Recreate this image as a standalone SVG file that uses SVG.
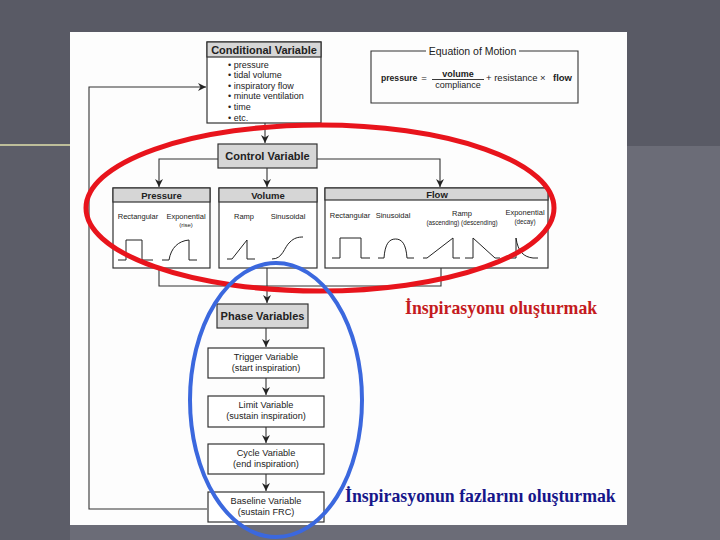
<svg xmlns="http://www.w3.org/2000/svg" width="720" height="540" viewBox="0 0 720 540">
<defs>
<style>
.box{fill:#fff;stroke:#333;stroke-width:1.2}
.hdr{fill:#d6d6d6;stroke:#333;stroke-width:1.2}
.t{font-family:"Liberation Sans",Arial,sans-serif;fill:#222}
.b{font-weight:bold;font-size:11px}
.s{font-size:9.2px}
.xs{font-size:7.5px}
.ln{fill:none;stroke:#333;stroke-width:1.1}
.wf{fill:none;stroke:#222;stroke-width:1}
</style>
<marker id="ar" markerWidth="10" markerHeight="10" refX="8" refY="5" orient="auto" markerUnits="userSpaceOnUse">
<path d="M0,1 L8,5 L0,9 L2.5,5 Z" fill="#222"/>
</marker>
</defs>
<rect width="720" height="540" fill="#6b6c77"/>
<rect width="720" height="146" fill="#595a65"/>
<rect x="0" y="146" width="70" height="394" fill="#5c5d68"/>
<line x1="0" y1="145" x2="72" y2="145" stroke="#d8d8a8" stroke-width="2" opacity="0.8"/>
<line x1="71" y1="110" x2="71" y2="165" stroke="#d8d8b0" stroke-width="1.5" opacity="0.6"/>
<rect x="70" y="32" width="557" height="493" fill="#fdfdfd"/>

<g id="connectors">
<polyline class="ln" points="207,509 89,509 89,87 206,87" marker-end="url(#ar)"/>
<line class="ln" x1="265" y1="123" x2="265" y2="143" marker-end="url(#ar)"/>
<polyline class="ln" points="218,159 159,159 159,187" marker-end="url(#ar)"/>
<line class="ln" x1="267" y1="168" x2="267" y2="187" marker-end="url(#ar)"/>
<polyline class="ln" points="317,159 440,159 440,187" marker-end="url(#ar)"/>
<polyline class="ln" points="159,268 159,286 441,286 441,268"/>
<line class="ln" x1="267" y1="268" x2="267" y2="303" marker-end="url(#ar)"/>
<line class="ln" x1="266" y1="328" x2="266" y2="347" marker-end="url(#ar)"/>
<line class="ln" x1="266" y1="378" x2="266" y2="395" marker-end="url(#ar)"/>
<line class="ln" x1="266" y1="427" x2="266" y2="443" marker-end="url(#ar)"/>
<line class="ln" x1="266" y1="474" x2="266" y2="491" marker-end="url(#ar)"/>
</g>

<g id="conditional">
<rect class="box" x="207" y="42" width="114" height="81"/>
<rect class="hdr" x="207" y="42" width="114" height="15"/>
<text class="t b" x="264" y="53.8" text-anchor="middle">Conditional Variable</text>
<g class="t" font-size="9">
<text x="228" y="67.5">• pressure</text>
<text x="228" y="78">• tidal volume</text>
<text x="228" y="88.5">• inspiratory flow</text>
<text x="228" y="99">• minute ventilation</text>
<text x="228" y="110">• time</text>
<text x="228" y="120.5">• etc.</text>
</g>
</g>

<g id="equation">
<polyline class="ln" points="426,51 371,51 371,103 578,103 578,51 519,51" stroke-width="1.6"/>
<text class="t" x="472.5" y="55" text-anchor="middle" font-size="10.5">Equation of Motion</text>
<text class="t" x="381" y="81" font-size="8.6" font-weight="bold">pressure</text>
<text class="t" x="424" y="81" font-size="9.5" text-anchor="middle">=</text>
<text class="t" x="458" y="77" font-size="9" text-anchor="middle" font-weight="bold">volume</text>
<line x1="432" y1="79.5" x2="484" y2="79.5" stroke="#222" stroke-width="0.9"/>
<text class="t" x="458" y="88" font-size="9" text-anchor="middle">compliance</text>
<text class="t" x="486" y="81" font-size="9.5">+ resistance ×</text>
<text class="t" x="553" y="81" font-size="9.5" font-weight="bold">flow</text>
</g>

<g id="control">
<rect class="hdr" x="218" y="144" width="99" height="24"/>
<text class="t b" x="267.5" y="160" text-anchor="middle">Control Variable</text>
</g>

<g id="pressure">
<rect class="box" x="113" y="188" width="97" height="80"/>
<rect class="hdr" x="113" y="188" width="97" height="14"/>
<text class="t" x="161.5" y="198.5" text-anchor="middle" font-size="9.5" font-weight="bold">Pressure</text>
<text class="t xs" x="138" y="219" text-anchor="middle">Rectangular</text>
<text class="t xs" x="186" y="219" text-anchor="middle">Exponential</text>
<text class="t" x="186" y="227" text-anchor="middle" font-size="6">(rise)</text>
<polyline class="wf" points="118,260 126,260 126,240 142,240 142,260 153,260"/>
<path class="wf" d="M162,260 L169,260 C171,248 178,241 189,240 L189,260 L197,260"/>
</g>

<g id="volume">
<rect class="box" x="219" y="188" width="98" height="80"/>
<rect class="hdr" x="219" y="188" width="98" height="14"/>
<text class="t" x="268" y="198.5" text-anchor="middle" font-size="9.5" font-weight="bold">Volume</text>
<text class="t xs" x="244" y="219" text-anchor="middle">Ramp</text>
<text class="t xs" x="288" y="219" text-anchor="middle">Sinusoidal</text>
<polyline class="wf" points="227,259 232,259 247,240 247,259 255,259"/>
<path class="wf" d="M272,259 C283,259 284,247 290,242 C294,238 298,237 303,237"/>
</g>

<g id="flow">
<rect class="box" x="325" y="188" width="223" height="80"/>
<rect class="hdr" x="325" y="188" width="223" height="12"/>
<text class="t" x="437" y="197.5" text-anchor="middle" font-size="9.5" font-weight="bold">Flow</text>
<text class="t xs" x="350" y="218" text-anchor="middle">Rectangular</text>
<text class="t xs" x="393" y="218" text-anchor="middle">Sinusoidal</text>
<text class="t xs" x="462" y="216" text-anchor="middle">Ramp</text>
<text class="t" x="462" y="225" text-anchor="middle" font-size="6.3">(ascending) (descending)</text>
<text class="t xs" x="525" y="215" text-anchor="middle">Exponential</text>
<text class="t" x="525" y="224" text-anchor="middle" font-size="6.3">(decay)</text>
<polyline class="wf" points="332,258 340,258 340,238 361,238 361,258 370,258"/>
<path class="wf" d="M378,258 L384,258 C385,244 389,239 395.5,239 C402,239 406,244 407,258 L414,258"/>
<polyline class="wf" points="423,258 427,258 453,238 453,258 460,258"/>
<polyline class="wf" points="465,258 473,258 473,238 495,258 500,258"/>
<path class="wf" d="M507,258 L516,258 L516,238 C518,252 524,257 533,258 L538,258"/>
</g>

<g id="phase">
<rect class="hdr" x="217" y="304" width="91" height="24"/>
<text class="t b" x="262.5" y="320" text-anchor="middle">Phase Variables</text>
</g>
<g id="trigger">
<rect class="box" x="208" y="348" width="116" height="30"/>
<text class="t s" x="266" y="360" text-anchor="middle">Trigger Variable</text>
<text class="t s" x="266" y="371" text-anchor="middle">(start inspiration)</text>
</g>
<g id="limit">
<rect class="box" x="208" y="396" width="116" height="31"/>
<text class="t s" x="266" y="408" text-anchor="middle">Limit Variable</text>
<text class="t s" x="266" y="419" text-anchor="middle">(sustain inspiration)</text>
</g>
<g id="cycle">
<rect class="box" x="208" y="444" width="116" height="30"/>
<text class="t s" x="266" y="456" text-anchor="middle">Cycle Variable</text>
<text class="t s" x="266" y="467" text-anchor="middle">(end inspiration)</text>
</g>
<g id="baseline">
<rect class="box" x="208" y="492" width="116" height="30"/>
<text class="t s" x="266" y="504" text-anchor="middle">Baseline Variable</text>
<text class="t s" x="266" y="515" text-anchor="middle">(sustain FRC)</text>
</g>

<g id="annotations">
<ellipse cx="320" cy="208" rx="234" ry="83" fill="none" stroke="#e8141c" stroke-width="5"/>
<ellipse cx="276" cy="400" rx="86" ry="137" fill="none" stroke="#3b68de" stroke-width="4"/>
<text x="405" y="314" font-family="'Liberation Serif','Times New Roman',serif" font-weight="bold" font-size="17.8" fill="#c41a20">İnspirasyonu oluşturmak</text>
<text x="345" y="502" font-family="'Liberation Serif','Times New Roman',serif" font-weight="bold" font-size="17.8" fill="#16168a">İnspirasyonun fazlarını oluşturmak</text>
</g>
</svg>
